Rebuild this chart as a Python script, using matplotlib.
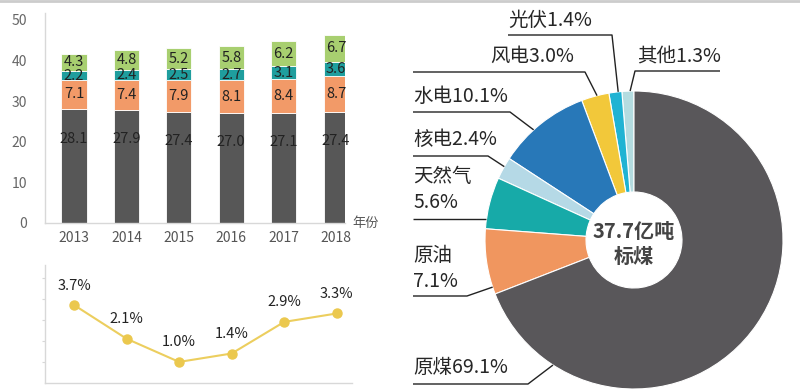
import matplotlib
matplotlib.use("Agg")
import matplotlib.pyplot as plt
import numpy as np

plt.rcParams['font.family'] = ['Noto Sans CJK SC', 'DejaVu Sans']

# ---------------- data ----------------
years = ['2013', '2014', '2015', '2016', '2017', '2018']
coal = [28.1, 27.9, 27.4, 27.0, 27.1, 27.4]
oil = [7.1, 7.4, 7.9, 8.1, 8.4, 8.7]
gas = [2.2, 2.4, 2.5, 2.7, 3.1, 3.6]
other = [4.3, 4.8, 5.2, 5.8, 6.2, 6.7]
growth = [3.7, 2.1, 1.0, 1.4, 2.9, 3.3]
y_ticks = [0, 10, 20, 30, 40, 50]

pie_names = ['其他', '光伏', '风电', '水电', '核电', '天然气', '原油', '原煤']
pie_values = [1.3, 1.4, 3.0, 10.1, 2.4, 5.6, 7.1, 69.1]

# ---------------- style ----------------
bar_colors = ['#575757', '#f29a68', '#1f9e9e', '#a8cf70']
label_pos = [0.74, 0.5, 0.5, 0.5]   # relative label height inside each segment
pie_colors = ['#b4dce0', '#20b3d3', '#f2c83a', '#2878b8', '#b5d9e6',
              '#17aaa8', '#f0965f', '#59575a']
axis_color = '#d8d8d8'
W, H = 800, 391

fig = plt.figure(figsize=(8, 3.91), dpi=100)

# ---------------- stacked bar chart ----------------
ax = fig.add_axes([45 / W, (H - 223) / H, 300 / W, 210 / H])
x = np.arange(len(years))
bw = 0.48
bottom = np.zeros(len(years))
for vals, col, lp in zip([coal, oil, gas, other], bar_colors, label_pos):
    vals = np.array(vals)
    ax.bar(x, vals, bw, bottom=bottom, color=col, edgecolor='white', linewidth=0.6, zorder=2)
    for xi, b, v in zip(x, bottom, vals):
        ax.text(xi, b + v * lp, f'{v:.1f}', ha='center', va='center',
                fontsize=10.5, color='#222222', zorder=3)
    bottom += vals
ax.set_xlim(-0.553, 5.17)
ax.set_ylim(0, 51.7)
ax.set_yticks(y_ticks)
ax.set_xticks(x)
ax.set_xticklabels(years)
ax.tick_params(axis='y', length=0, pad=13, labelsize=10, labelcolor='#666666')
ax.tick_params(axis='x', length=0, pad=6, labelsize=10, labelcolor='#555555')
for s in ['top', 'right']:
    ax.spines[s].set_visible(False)
for s in ['left', 'bottom']:
    ax.spines[s].set_color(axis_color)
    ax.spines[s].set_linewidth(1.0)
ax.annotate('年份', xy=(1.0, 0), xycoords='axes fraction', xytext=(5, 0),
            textcoords='offset points', ha='left', va='center',
            fontsize=9.5, color='#555555')

# ---------------- growth line chart ----------------
ax2 = fig.add_axes([45 / W, (H - 383) / H, 307 / W, 118 / H])
ax2.plot(x, growth, color='#ecce5e', linewidth=1.5, marker='o',
         markersize=6.5, markerfacecolor='#ebc84e', markeredgecolor='#ebc84e', zorder=3)
for xi, g in zip(x, growth):
    ax2.annotate(f'{g:.1f}%', xy=(xi, g), xytext=(0, 14), textcoords='offset points',
                 ha='center', va='center', fontsize=10.5, color='#222222')
ax2.set_xlim(-0.553, 5.29)
ax2.set_ylim(0, 5.6)
ax2.set_yticks([1, 2, 3, 4, 5])
ax2.set_yticklabels([])
ax2.set_xticks([])
ax2.tick_params(axis='y', length=2.5, color=axis_color)
for s in ['top', 'right']:
    ax2.spines[s].set_visible(False)
for s in ['left', 'bottom']:
    ax2.spines[s].set_color(axis_color)
    ax2.spines[s].set_linewidth(1.0)

# ---------------- donut pie (overlay in pixel units) ----------------
ov = fig.add_axes([0, 0, 1, 1])
cx, cy, R = 634, H - 240, 149
wedges, _ = ov.pie(pie_values, colors=pie_colors, startangle=90, counterclock=True,
                   radius=R, center=(cx, cy), frame=True,
                   wedgeprops=dict(width=R - 48, edgecolor='white', linewidth=0.8))
ov.set_xlim(0, W)
ov.set_ylim(0, H)
ov.set_axis_off()
ov.patch.set_alpha(0)

ov.text(cx, cy + 9, '37.7亿吨', ha='center', va='center', fontsize=14.5,
        fontweight='bold', color='#444444')
ov.text(cx, cy - 16, '标煤', ha='center', va='center', fontsize=14.5,
        fontweight='bold', color='#444444')

# label layout: (text, text x, text baseline y(top-down px), fraction in wedge,
#                line start x, elbow (x, y) top-down px)
label_layout = {
    '其他': ('其他1.3%', 637, 62, 0.32, 720, (635, 71)),
    '光伏': ('光伏1.4%', 508, 26, 0.28, 508, (612, 35)),
    '风电': ('风电3.0%', 490, 62, 0.43, 413, (585, 72)),
    '水电': ('水电10.1%', 413, 102, 0.60, 413, (510, 112)),
    '核电': ('核电2.4%', 413, 145, 0.42, 413, (488, 156)),
    '天然气': ('天然气\n5.6%', 413, 208, None, 413, (486, 219)),
    '原油': ('原油\n7.1%', 413, 287, 0.89, 413, (467, 296)),
    '原煤': ('原煤69.1%', 413, 373, 0.144, 413, (528, 384)),
}
for name, w in zip(pie_names, wedges):
    txt, tx, ty, frac, lx, elbow = label_layout[name]
    ov.text(tx, H - ty, txt, ha='left', va='baseline', fontsize=14,
            color='#262626', linespacing=1.3)
    ex, ey = elbow[0], H - elbow[1]
    if frac is None:
        xs, ys = [lx, ex], [ey, ey]
    else:
        ang = np.deg2rad(w.theta1 + frac * (w.theta2 - w.theta1))
        px, py = cx + R * np.cos(ang), cy + R * np.sin(ang)
        xs, ys = [lx, ex, px], [ey, ey, py]
    ov.plot(xs, ys, color='#222222', linewidth=1.0, solid_capstyle='butt')

# top border line
ov.plot([0, W], [H - 1, H - 1], color='#cccccc', linewidth=2)

fig.savefig('out.png', dpi=100)
